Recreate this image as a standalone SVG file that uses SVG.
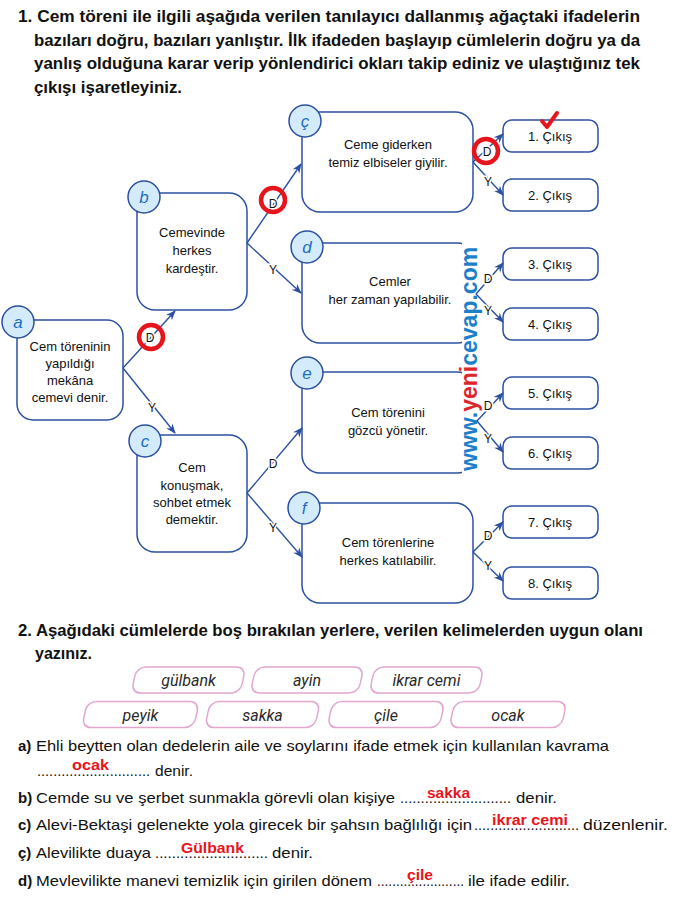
<svg xmlns="http://www.w3.org/2000/svg" width="680" height="904" viewBox="0 0 680 904">
<style>
text{font-family:"Liberation Sans",Arial,sans-serif;fill:#111}
.t{font-size:16px;font-weight:bold}
.box{fill:#fff;stroke:#2c50a0;stroke-width:1.5}
.lc{fill:#d3ebfa;stroke:#2c50a0;stroke-width:1.5}
.let{font-size:17px;font-style:italic;fill:#1f6fc2;text-anchor:middle}
.nt{font-size:13px;text-anchor:middle}
.ex{font-size:13px;text-anchor:middle}
.con line{stroke:#2c50a0;stroke-width:1.4;marker-end:url(#arr)}
.lbl{font-size:12px;text-anchor:middle;stroke:#fff;stroke-width:3;paint-order:stroke}
.rc{fill:none;stroke:#e8141c;stroke-width:4.5}
.chip{fill:#fff;stroke:#e2a6cf;stroke-width:1.5}
.ct{font-family:Roboto,"Open Sans",sans-serif;font-size:16px;font-style:italic;text-anchor:middle;fill:#2a2a2a}
.b{font-size:15px}
.bl{font-weight:bold}
.ans{font-size:14.5px;font-weight:bold;fill:#e8141c}
</style>
<defs>
<marker id="arr" viewBox="0 0 10 10" refX="9" refY="5" markerWidth="10" markerHeight="10" markerUnits="userSpaceOnUse" orient="auto">
<path d="M0,1 L10,5 L0,9 L3,5 z" fill="#2c50a0"/>
</marker>
</defs>
<rect width="680" height="904" fill="#fff"/>

<g id="title">
<text class="t" x="18" y="22" textLength="622" lengthAdjust="spacingAndGlyphs">1. Cem töreni ile ilgili aşağıda verilen tanılayıcı dallanmış ağaçtaki ifadelerin</text>
<text class="t" x="34" y="45.5" textLength="606" lengthAdjust="spacingAndGlyphs">bazıları doğru, bazıları yanlıştır. İlk ifadeden başlayıp cümlelerin doğru ya da</text>
<text class="t" x="34" y="69" textLength="606" lengthAdjust="spacingAndGlyphs">yanlış olduğuna karar verip yönlendirici okları takip ediniz ve ulaştığınız tek</text>
<text class="t" x="34" y="92.5" textLength="148" lengthAdjust="spacingAndGlyphs">çıkışı işaretleyiniz.</text>
</g>

<g id="node-a">
<rect class="box" x="17" y="320" width="106" height="100" rx="16"/>
<circle class="lc" cx="18" cy="322" r="16"/>
<text class="let" x="18" y="328">a</text>
<text class="nt" x="70" y="351">Cem töreninin</text>
<text class="nt" x="70" y="368">yapıldığı</text>
<text class="nt" x="70" y="385">mekâna</text>
<text class="nt" x="70" y="402">cemevi denir.</text>
</g>

<g id="node-b">
<rect class="box" x="137" y="193" width="110" height="117" rx="18"/>
<circle class="lc" cx="144" cy="197" r="16"/>
<text class="let" x="144" y="203">b</text>
<text class="nt" x="192" y="237">Cemevinde</text>
<text class="nt" x="192" y="255">herkes</text>
<text class="nt" x="192" y="273">kardeştir.</text>
</g>

<g id="node-c">
<rect class="box" x="137" y="435" width="110" height="117" rx="18"/>
<circle class="lc" cx="145" cy="441" r="16"/>
<text class="let" x="145" y="447">c</text>
<text class="nt" x="192" y="472">Cem</text>
<text class="nt" x="192" y="490">konuşmak,</text>
<text class="nt" x="192" y="507">sohbet etmek</text>
<text class="nt" x="192" y="524">demektir.</text>
</g>

<g id="node-cc">
<rect class="box" x="302" y="112" width="171" height="100" rx="18"/>
<circle class="lc" cx="305" cy="121" r="16"/>
<text class="let" x="305" y="127">ç</text>
<text class="nt" x="388" y="149">Ceme giderken</text>
<text class="nt" x="388" y="167">temiz elbiseler giyilir.</text>
</g>

<g id="node-d">
<rect class="box" x="302" y="243" width="173" height="100" rx="18"/>
<circle class="lc" cx="307" cy="247" r="16"/>
<text class="let" x="307" y="253">d</text>
<text class="nt" x="390" y="286">Cemler</text>
<text class="nt" x="390" y="304">her zaman yapılabilir.</text>
</g>

<g id="node-e">
<rect class="box" x="302" y="372" width="173" height="101" rx="18"/>
<circle class="lc" cx="307" cy="373" r="16"/>
<text class="let" x="307" y="379">e</text>
<text class="nt" x="388" y="417">Cem törenini</text>
<text class="nt" x="388" y="435">gözcü yönetir.</text>
</g>

<g id="node-f">
<rect class="box" x="302" y="503" width="171" height="100" rx="18"/>
<circle class="lc" cx="304" cy="508" r="16"/>
<text class="let" x="304" y="514">f</text>
<text class="nt" x="388" y="547">Cem törenlerine</text>
<text class="nt" x="388" y="565">herkes katılabilir.</text>
</g>

<g id="exit-1"><rect class="box" x="503" y="120" width="95" height="32" rx="9"/><text class="ex" x="550" y="140.5">1. Çıkış</text></g>
<g id="exit-2"><rect class="box" x="503" y="179" width="95" height="32" rx="9"/><text class="ex" x="550" y="199.5">2. Çıkış</text></g>
<g id="exit-3"><rect class="box" x="503" y="248" width="95" height="32" rx="9"/><text class="ex" x="550" y="268.5">3. Çıkış</text></g>
<g id="exit-4"><rect class="box" x="503" y="308" width="95" height="32" rx="9"/><text class="ex" x="550" y="328.5">4. Çıkış</text></g>
<g id="exit-5"><rect class="box" x="503" y="377" width="95" height="32" rx="9"/><text class="ex" x="550" y="397.5">5. Çıkış</text></g>
<g id="exit-6"><rect class="box" x="503" y="437" width="95" height="32" rx="9"/><text class="ex" x="550" y="457.5">6. Çıkış</text></g>
<g id="exit-7"><rect class="box" x="503" y="506" width="95" height="32" rx="9"/><text class="ex" x="550" y="526.5">7. Çıkış</text></g>
<g id="exit-8"><rect class="box" x="503" y="567" width="95" height="32" rx="9"/><text class="ex" x="550" y="587.5">8. Çıkış</text></g>

<g id="watermark">
<rect x="462" y="243" width="17" height="231" fill="#fff"/>
<text transform="translate(477,471) rotate(-90)" style="font-size:23px;font-weight:bold"><tspan fill="#1e7fc9">www.</tspan><tspan fill="#e0262b">yeni</tspan><tspan fill="#1e7fc9">cevap.com</tspan></text>
</g>

<g id="connectors" class="con">
<line x1="123" y1="368" x2="175" y2="311"/>
<line x1="123" y1="368" x2="175" y2="433"/>
<line x1="247" y1="243" x2="301" y2="164"/>
<line x1="247" y1="243" x2="301" y2="293"/>
<line x1="473" y1="162" x2="503" y2="134"/>
<line x1="473" y1="162" x2="503" y2="195"/>
<line x1="476" y1="294" x2="503" y2="263"/>
<line x1="476" y1="294" x2="503" y2="322"/>
<line x1="247" y1="493" x2="302" y2="428"/>
<line x1="247" y1="493" x2="302" y2="557"/>
<line x1="477" y1="421" x2="503" y2="393"/>
<line x1="477" y1="421" x2="503" y2="452"/>
<line x1="473" y1="552" x2="503" y2="522"/>
<line x1="473" y1="552" x2="503" y2="581"/>
<text class="lbl" x="150" y="342">D</text>
<text class="lbl" x="152" y="412">Y</text>
<text class="lbl" x="273" y="208">D</text>
<text class="lbl" x="273" y="274">Y</text>
<text class="lbl" x="487" y="156">D</text>
<text class="lbl" x="488" y="186">Y</text>
<text class="lbl" x="488" y="283">D</text>
<text class="lbl" x="488" y="315">Y</text>
<text class="lbl" x="273" y="468">D</text>
<text class="lbl" x="273" y="532">Y</text>
<text class="lbl" x="488" y="410">D</text>
<text class="lbl" x="488" y="443">Y</text>
<text class="lbl" x="488" y="540">D</text>
<text class="lbl" x="488" y="570">Y</text>
</g>

<g id="marks">
<circle class="rc" cx="151" cy="337" r="12"/>
<circle class="rc" cx="273" cy="200" r="12"/>
<circle class="rc" cx="486" cy="151" r="12"/>
<path d="M542,121 L547,127 L557,113" fill="none" stroke="#e8141c" stroke-width="4" stroke-linecap="round" stroke-linejoin="round"/>
</g>

<g id="q2">
<text class="t" x="18" y="636" textLength="625" lengthAdjust="spacingAndGlyphs">2. Aşağıdaki cümlelerde boş bırakılan yerlere, verilen kelimelerden uygun olanı</text>
<text class="t" x="35" y="659" textLength="57" lengthAdjust="spacingAndGlyphs">yazınız.</text>
</g>

<g id="chips">
<g transform="translate(188.5,680) skewX(-12)"><rect class="chip" x="-54.5" y="-13" width="109" height="26" rx="9"/></g><text class="ct" x="188.5" y="686">gülbank</text>
<g transform="translate(307,680) skewX(-12)"><rect class="chip" x="-54" y="-13" width="108" height="26" rx="9"/></g><text class="ct" x="307" y="686">ayin</text>
<g transform="translate(426.5,680) skewX(-12)"><rect class="chip" x="-54.5" y="-13" width="109" height="26" rx="9"/></g><text class="ct" x="426.5" y="686">ikrar cemi</text>
<g transform="translate(140.5,714.5) skewX(-12)"><rect class="chip" x="-56" y="-13" width="112" height="26" rx="9"/></g><text class="ct" x="140.5" y="720.5">peyik</text>
<g transform="translate(262.5,714.5) skewX(-12)"><rect class="chip" x="-55" y="-13" width="110" height="26" rx="9"/></g><text class="ct" x="262.5" y="720.5">sakka</text>
<g transform="translate(386,714.5) skewX(-12)"><rect class="chip" x="-56" y="-13" width="112" height="26" rx="9"/></g><text class="ct" x="386" y="720.5">çile</text>
<g transform="translate(508,714.5) skewX(-12)"><rect class="chip" x="-56" y="-13" width="112" height="26" rx="9"/></g><text class="ct" x="508" y="720.5">ocak</text>
</g>

<g id="sentences">
<text class="b bl" x="18" y="751">a)</text>
<text class="b" x="36" y="751" textLength="573" lengthAdjust="spacingAndGlyphs">Ehli beytten olan dedelerin aile ve soylarını ifade etmek için kullanılan kavrama</text>
<text class="b" x="37" y="776" textLength="113" lengthAdjust="spacingAndGlyphs">............................</text>
<text class="b" x="155" y="776" textLength="38" lengthAdjust="spacingAndGlyphs">denir.</text>
<text class="ans" x="72" y="770" textLength="37" lengthAdjust="spacingAndGlyphs">ocak</text>

<text class="b bl" x="18" y="803">b)</text>
<text class="b" x="36" y="803" textLength="359" lengthAdjust="spacingAndGlyphs">Cemde su ve şerbet sunmakla görevli olan kişiye</text>
<text class="b" x="400" y="803" textLength="111" lengthAdjust="spacingAndGlyphs">...........................</text>
<text class="b" x="516" y="803" textLength="41" lengthAdjust="spacingAndGlyphs">denir.</text>
<text class="ans" x="427" y="798" textLength="43" lengthAdjust="spacingAndGlyphs">sakka</text>

<text class="b bl" x="18" y="830">c)</text>
<text class="b" x="36" y="830" textLength="436" lengthAdjust="spacingAndGlyphs">Alevi-Bektaşi gelenekte yola girecek bir şahsın bağlılığı için</text>
<text class="b" x="474" y="830" textLength="105" lengthAdjust="spacingAndGlyphs">..........................</text>
<text class="b" x="583" y="830" textLength="85" lengthAdjust="spacingAndGlyphs">düzenlenir.</text>
<text class="ans" x="492" y="825" textLength="76" lengthAdjust="spacingAndGlyphs">ikrar cemi</text>

<text class="b bl" x="18" y="858">ç)</text>
<text class="b" x="36" y="858" textLength="115" lengthAdjust="spacingAndGlyphs">Alevilikte duaya</text>
<text class="b" x="155" y="858" textLength="113" lengthAdjust="spacingAndGlyphs">...........................</text>
<text class="b" x="272" y="858" textLength="41" lengthAdjust="spacingAndGlyphs">denir.</text>
<text class="ans" x="181" y="853" textLength="63" lengthAdjust="spacingAndGlyphs">Gülbank</text>

<text class="b bl" x="18" y="886">d)</text>
<text class="b" x="36" y="886" textLength="336" lengthAdjust="spacingAndGlyphs">Mevlevilikte manevi temizlik için girilen dönem</text>
<text class="b" x="377" y="886" textLength="87" lengthAdjust="spacingAndGlyphs">.......................</text>
<text class="b" x="468" y="886" textLength="102" lengthAdjust="spacingAndGlyphs">ile ifade edilir.</text>
<text class="ans" x="407" y="880" textLength="26" lengthAdjust="spacingAndGlyphs">çile</text>
</g>
</svg>
